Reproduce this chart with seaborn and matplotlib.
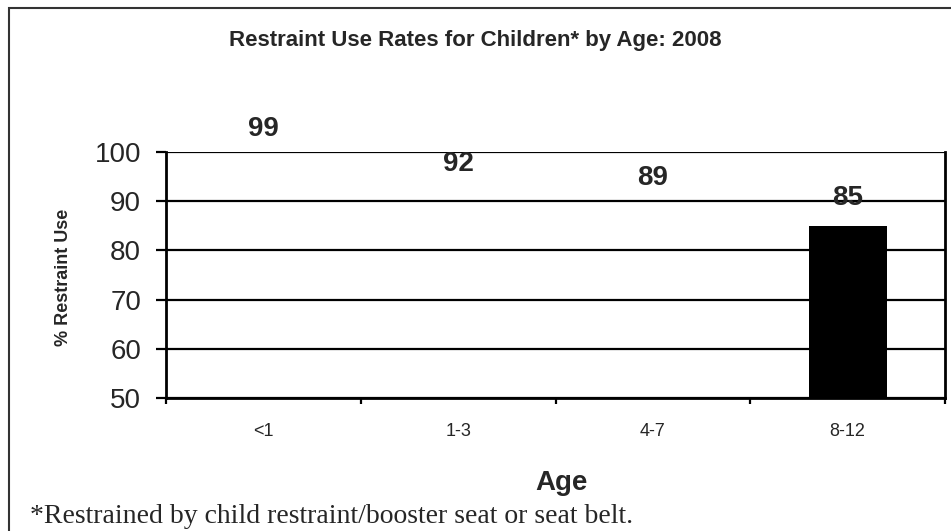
import seaborn as sns
import matplotlib.pyplot as plt
import matplotlib.patches as mpatches
import pandas as pd

# data
age_groups = ['<1', '1-3', '4-7', '8-12']
restraint_use = [99, 92, 89, 85]
bar_fills = ['none', 'none', 'none', 'black']

sns.set_style('white')
plt.rcParams['font.family'] = ['Liberation Sans', 'DejaVu Sans']

df = pd.DataFrame({'Age': age_groups, 'Use': restraint_use})

fig = plt.figure(figsize=(9.51, 5.31), dpi=100)
ax = fig.add_axes([166 / 951, 1 - 398 / 531, 779 / 951, 246 / 531])

sns.barplot(data=df, x='Age', y='Use', color='black', width=0.4,
            saturation=1, ax=ax, zorder=3)
for patch, fill in zip(ax.patches, bar_fills):
    patch.set_facecolor(fill)
    patch.set_edgecolor('none')

# value labels sit well above the bar tops
for i, v in enumerate(restraint_use):
    ax.annotate(str(v), (i, v), xytext=(0, 20), textcoords='offset points',
                ha='center', va='center', fontsize=20, fontweight='bold',
                annotation_clip=False, zorder=5)

ax.set_ylim(50, 100)
ax.set_xlim(-0.5, 3.5)
ax.set_yticks([50, 60, 70, 80, 90, 100])
ax.yaxis.grid(True, color='black', lw=1.6, zorder=1)
ax.xaxis.grid(False)
ax.set_axisbelow(True)

ax.tick_params(axis='y', which='major', length=7, width=1.6, color='black',
               labelsize=20, pad=11, left=True)
ax.tick_params(axis='x', which='major', length=0, labelsize=13, pad=18)
ax.set_xticks([-0.5, 0.5, 1.5, 2.5, 3.5], minor=True)
ax.tick_params(axis='x', which='minor', length=4.5, width=1.6, color='black',
               bottom=True)

for side in ['left', 'bottom', 'right']:
    ax.spines[side].set_visible(True)
    ax.spines[side].set_color('black')
    ax.spines[side].set_linewidth(2)
ax.spines['top'].set_visible(False)

ax.set_xlabel('')
ax.set_ylabel('')

fig.text(0.5, 1 - 46 / 531, 'Restraint Use Rates for Children* by Age: 2008',
         ha='center', va='baseline', fontsize=16, fontweight='bold')
fig.text(63 / 951, 1 - 277 / 531, '% Restraint Use', rotation=90,
         ha='center', va='center', fontsize=13, fontweight='bold')
fig.text(562 / 951, 1 - 490 / 531, 'Age', ha='center', va='baseline',
         fontsize=20, fontweight='bold')
fig.text(30 / 951, 1 - 523 / 531,
         '*Restrained by child restraint/booster seat or seat belt.',
         ha='left', va='baseline', fontsize=20,
         family=['Liberation Serif', 'DejaVu Serif'])

# outer chart frame
fig.patches.append(mpatches.Rectangle((9 / 951, -0.1), 1.2, 1.1 - 8 / 531,
                                      transform=fig.transFigure, fill=False,
                                      edgecolor='#333333', lw=1.5))

fig.savefig('out.png', dpi=100)
